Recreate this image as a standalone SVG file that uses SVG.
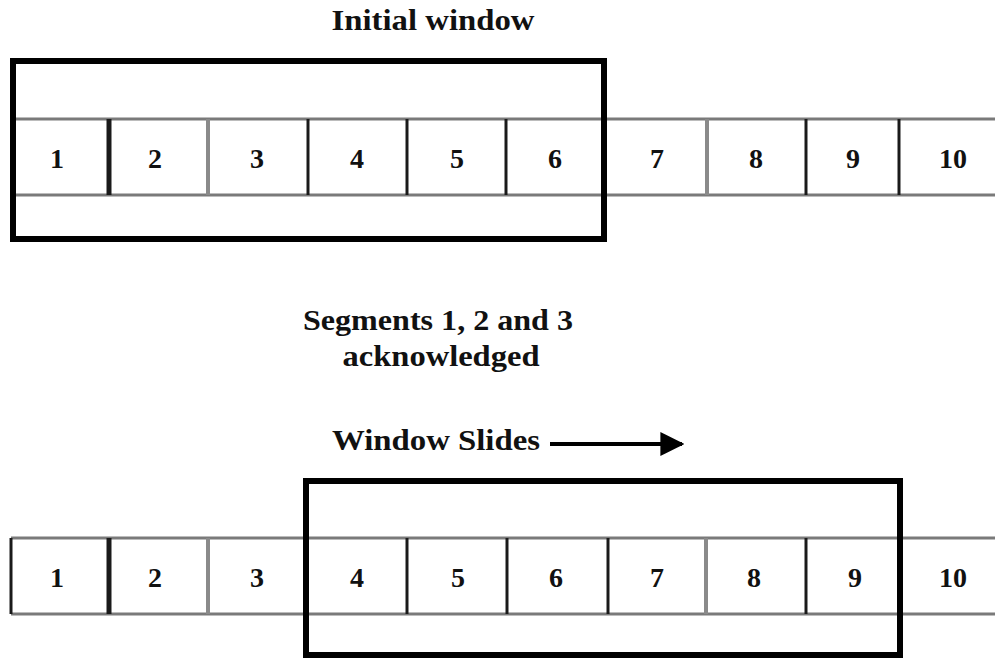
<svg xmlns="http://www.w3.org/2000/svg" width="995" height="659" viewBox="0 0 995 659">
  <style>
    .title { font-family: "Liberation Serif", "Times New Roman", serif; font-weight: bold; font-size: 30px; fill: #111; text-anchor: middle; }
    .num { font-family: "Liberation Serif", "Times New Roman", serif; font-weight: bold; font-size: 28px; fill: #111; text-anchor: middle; }
    .rowline { stroke: #7a7a7a; stroke-width: 3; fill: none; }
    .div-dark { stroke: #1a1a1a; stroke-width: 3; }
    .div-thick { stroke: #1a1a1a; stroke-width: 5; }
    .div-gray { stroke: #8a8a8a; stroke-width: 4; }
    .window { fill: none; stroke: #000; stroke-width: 6; }
  </style>
  <defs>
    <marker id="arrowhead" viewBox="0 0 10 10" refX="9" refY="5" markerWidth="6" markerHeight="6" markerUnits="strokeWidth" orient="auto">
      <path d="M0,0 L10,5 L0,10 z" fill="#000"/>
    </marker>
  </defs>
  <rect width="995" height="659" fill="#fff"/>

  <!-- Top: segment row with initial window -->
  <g id="top-row">
    <line class="rowline" x1="12" y1="119" x2="995" y2="119"/>
    <line class="rowline" x1="12" y1="195" x2="995" y2="195"/>
    <line class="div-thick" x1="109" y1="119" x2="109" y2="195"/>
    <line class="div-gray" x1="208" y1="119" x2="208" y2="195"/>
    <line class="div-dark" x1="308" y1="119" x2="308" y2="195"/>
    <line class="div-dark" x1="407" y1="119" x2="407" y2="195"/>
    <line class="div-dark" x1="506" y1="119" x2="506" y2="195"/>
    <line class="div-gray" x1="707" y1="119" x2="707" y2="195"/>
    <line class="div-dark" x1="806" y1="119" x2="806" y2="195"/>
    <line class="div-dark" x1="899" y1="119" x2="899" y2="195"/>
    <text class="num" x="57" y="168">1</text>
    <text class="num" x="155" y="168">2</text>
    <text class="num" x="257" y="168">3</text>
    <text class="num" x="357" y="168">4</text>
    <text class="num" x="457" y="168">5</text>
    <text class="num" x="555" y="168">6</text>
    <text class="num" x="657" y="168">7</text>
    <text class="num" x="756" y="168">8</text>
    <text class="num" x="853" y="168">9</text>
    <text class="num" x="953" y="168">10</text>
  </g>
  <g id="initial-window">
    <rect class="window" x="13" y="61" width="591" height="178"/>
    <text class="title" x="433" y="30" textLength="203" lengthAdjust="spacingAndGlyphs">Initial window</text>
  </g>

  <g id="ack-label">
    <text class="title" x="438" y="330" textLength="270" lengthAdjust="spacingAndGlyphs">Segments 1, 2 and 3</text>
    <text class="title" x="441" y="366" textLength="197" lengthAdjust="spacingAndGlyphs">acknowledged</text>
  </g>

  <g id="slide-label">
    <text class="title" x="436" y="450" textLength="208" lengthAdjust="spacingAndGlyphs">Window Slides</text>
  </g>

  <g id="connectors">
    <line x1="550" y1="444" x2="682" y2="444" stroke="#000" stroke-width="4" marker-end="url(#arrowhead)"/>
  </g>

  <!-- Bottom: segment row with slid window -->
  <g id="bottom-row">
    <line class="rowline" x1="11" y1="538" x2="995" y2="538"/>
    <line class="rowline" x1="11" y1="614" x2="995" y2="614"/>
    <line class="div-dark" x1="11" y1="538" x2="11" y2="614"/>
    <line class="div-thick" x1="109" y1="538" x2="109" y2="614"/>
    <line class="div-gray" x1="208" y1="538" x2="208" y2="614"/>
    <line class="div-dark" x1="407" y1="538" x2="407" y2="614"/>
    <line class="div-dark" x1="507" y1="538" x2="507" y2="614"/>
    <line class="div-dark" x1="608" y1="538" x2="608" y2="614"/>
    <line class="div-gray" x1="706" y1="538" x2="706" y2="614"/>
    <line class="div-dark" x1="806" y1="538" x2="806" y2="614"/>
    <text class="num" x="57" y="587">1</text>
    <text class="num" x="155" y="587">2</text>
    <text class="num" x="257" y="587">3</text>
    <text class="num" x="357" y="587">4</text>
    <text class="num" x="458" y="587">5</text>
    <text class="num" x="556" y="587">6</text>
    <text class="num" x="657" y="587">7</text>
    <text class="num" x="754" y="587">8</text>
    <text class="num" x="855" y="587">9</text>
    <text class="num" x="953" y="587">10</text>
  </g>
  <g id="slid-window">
    <rect class="window" x="306" y="481" width="594" height="174"/>
  </g>
</svg>
